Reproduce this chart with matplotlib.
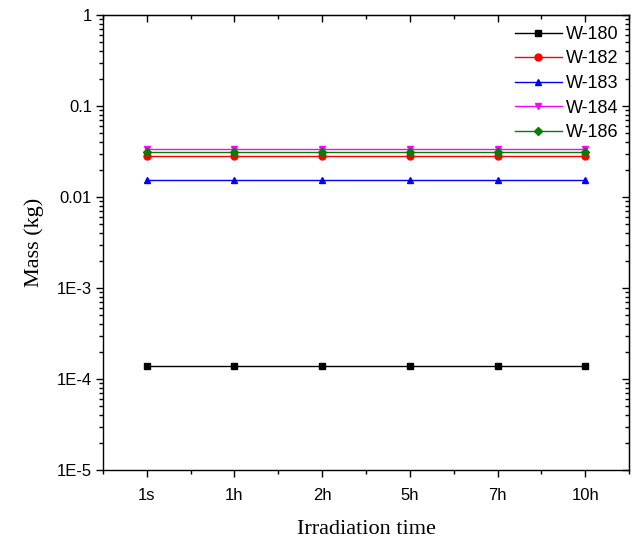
import numpy as np
import matplotlib
matplotlib.use("Agg")
import matplotlib.pyplot as plt
from matplotlib.ticker import FixedLocator, LogLocator, NullFormatter, FuncFormatter

times = ['1s', '1h', '2h', '5h', '7h', '10h']
w180 = [1.39e-4] * 6
w182 = [0.0285] * 6
w183 = [0.0155] * 6
w184 = [0.0335] * 6
w186 = [0.0312] * 6

series = [('W-180', w180, 'black', 's'),
          ('W-182', w182, 'red', 'o'),
          ('W-183', w183, 'blue', '^'),
          ('W-184', w184, 'magenta', 'v'),
          ('W-186', w186, 'green', 'D')]

plt.rcParams['font.family'] = ['Liberation Sans', 'DejaVu Sans']

fig = plt.figure(figsize=(6.33, 5.47), dpi=100)
ax = fig.add_axes([0.1627, 0.1408, 0.8310, 0.8318])

x = np.arange(1, len(times) + 1)
for name, vals, col, mk in series:
    ms = 4.2 if mk == 'D' else 5
    ax.plot(x, vals, color=col, marker=mk, markersize=ms, linewidth=1, label=name)

ax.set_yscale('log')
ax.set_ylim(1e-5, 1)
ax.set_xlim(0.5, 6.5)
ax.set_xticks(x)
ax.set_xticklabels(times)
minor_x = np.arange(0.5, 7, 1.0)
ax.xaxis.set_minor_locator(FixedLocator(minor_x))

def fmt(v, pos):
    labels = {1: '1', 0.1: '0.1', 0.01: '0.01', 1e-3: '1E-3', 1e-4: '1E-4', 1e-5: '1E-5'}
    for k, s in labels.items():
        if abs(v - k) / k < 1e-6:
            return s
    return ''

ax.yaxis.set_major_locator(LogLocator(base=10, numticks=10))
ax.yaxis.set_major_formatter(FuncFormatter(fmt))
ax.yaxis.set_minor_locator(LogLocator(base=10, subs=np.arange(2, 10), numticks=20))
ax.yaxis.set_minor_formatter(NullFormatter())

ax.tick_params(axis='both', which='major', direction='out', length=5, width=1, labelsize=12)
ax.tick_params(axis='both', which='minor', direction='out', length=3, width=1)
ax.tick_params(axis='x', pad=8)
ax.tick_params(axis='y', pad=3)

# top and right ticks point inward
top = ax.secondary_xaxis('top')
top.set_xticks(x)
top.xaxis.set_minor_locator(FixedLocator(minor_x))
top.tick_params(which='major', direction='in', length=5, width=1, labeltop=False)
top.tick_params(which='minor', direction='in', length=3, width=1)

right = ax.secondary_yaxis('right')
right.yaxis.set_major_locator(LogLocator(base=10, numticks=10))
right.yaxis.set_minor_locator(LogLocator(base=10, subs=np.arange(2, 10), numticks=20))
right.yaxis.set_minor_formatter(NullFormatter())
right.tick_params(which='major', direction='in', length=5, width=1, labelright=False)
right.tick_params(which='minor', direction='in', length=3, width=1)

for sp in ax.spines.values():
    sp.set_linewidth(1)

ax.set_xlabel('Irradiation time', family=['Liberation Serif'], fontsize=16, labelpad=12)
ax.set_ylabel('Mass (kg)', family=['Liberation Serif'], fontsize=16, labelpad=9)

ax.legend(loc='upper right', frameon=False, fontsize=13, handlelength=2.6,
          labelspacing=0.42, handletextpad=0.2, borderaxespad=0.2,
          bbox_to_anchor=(1.0, 1.0))

fig.savefig('out.png', dpi=100)
